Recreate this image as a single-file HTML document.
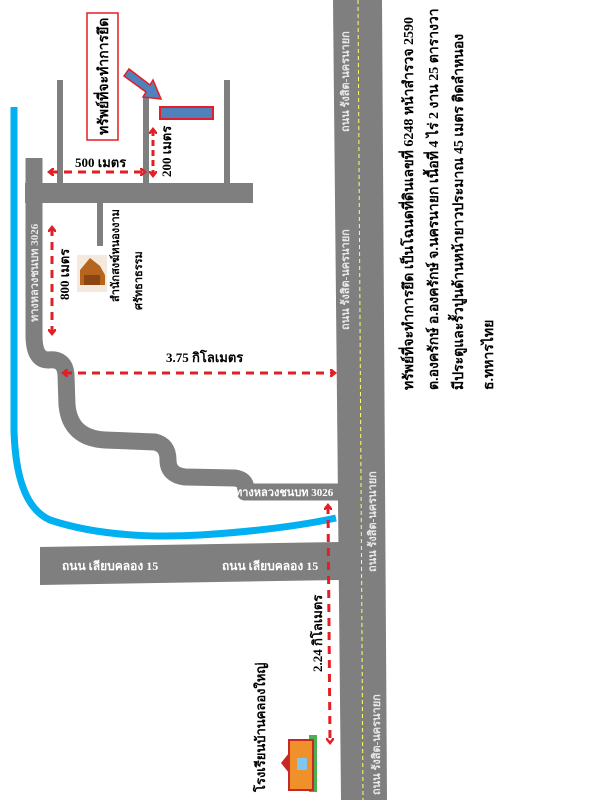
<!DOCTYPE html>
<html><head><meta charset="utf-8"><style>
html,body{margin:0;padding:0;background:#fff;}
svg{display:block;}
text{font-family:"Liberation Serif","Noto Serif CJK SC",serif;font-weight:bold;}
</style></head><body>
<svg width="600" height="800" viewBox="0 0 600 800" xmlns="http://www.w3.org/2000/svg">
<defs>
<marker id="ah" markerWidth="8" markerHeight="8" refX="4" refY="4" orient="auto-start-reverse" markerUnits="userSpaceOnUse">
<path d="M0,0 L5,4 L0,8" fill="none" stroke="#e31e24" stroke-width="2.5"/>
</marker>
</defs>
<polygon points="333,0 382,0 387,800 341,800" fill="#7f7f7f"/>
<line x1="358" y1="0" x2="363" y2="800" stroke="#ffff66" stroke-width="1" stroke-dasharray="4,3"/>
<g fill="#e8e8e8" font-size="11" style="font-weight:normal">
<text transform="translate(349,132) rotate(-90)">ถนน รังสิต-นครนายก</text>
<text transform="translate(349,330) rotate(-90)">ถนน รังสิต-นครนายก</text>
<text transform="translate(376,572) rotate(-90)">ถนน รังสิต-นครนายก</text>
<text transform="translate(380,795) rotate(-90)">ถนน รังสิต-นครนายก</text>
</g>
<path d="M14,107 L14,430 Q16,505 50,520 Q110,540 200,535 Q280,530 336,518" fill="none" stroke="#00b0f0" stroke-width="7"/>
<path d="M34,158 L34,335 Q34,360 48,360 Q65,358 66,375 L67,405 Q70,438 105,440 L155,442 Q168,445 168,460 Q168,475 185,477 L235,478 Q248,480 245,492 L340,492" fill="none" stroke="#7f7f7f" stroke-width="17" stroke-linejoin="round"/>
<rect x="25" y="183" width="228" height="20" fill="#7f7f7f"/>
<rect x="57" y="80" width="6" height="103" fill="#7f7f7f"/>
<rect x="143" y="95" width="6" height="88" fill="#7f7f7f"/>
<rect x="224" y="80" width="6" height="103" fill="#7f7f7f"/>
<rect x="97" y="203" width="6" height="43" fill="#7f7f7f"/>
<text transform="translate(38,322) rotate(-90)" fill="#e8e8e8" font-size="11">ทางหลวงชนบท 3026</text>
<text x="235" y="496" fill="#fff" font-size="11">ทางหลวงชนบท 3026</text>
<polygon points="40,547 340,542 340,580 40,585" fill="#7f7f7f"/>
<text x="62" y="570" fill="#fff" font-size="12">ถนน เลียบคลอง 15</text>
<text x="222" y="570" fill="#fff" font-size="12">ถนน เลียบคลอง 15</text>
<rect x="87" y="13" width="31" height="127" fill="#fff" stroke="#e31e24" stroke-width="1.5"/>
<text transform="translate(108,135) rotate(-90)" font-size="14" fill="#000">ทรัพย์ที่จะทำการยึด</text>
<polygon points="124,76 129,69 150,85 153,80 161,99 143,97 146,92" fill="#4f81bd" stroke="#e31e24" stroke-width="1.5"/>
<rect x="160" y="107" width="53" height="12" fill="#4f81bd" stroke="#e31e24" stroke-width="2"/>
<g stroke="#e31e24" stroke-width="3" stroke-dasharray="8,6" fill="none">
<line x1="50" y1="172" x2="144" y2="172" marker-start="url(#ah)" marker-end="url(#ah)"/>
<line x1="153" y1="130" x2="153" y2="175" marker-start="url(#ah)" marker-end="url(#ah)" stroke-dasharray="6,4"/>
<line x1="52" y1="228" x2="52" y2="333" marker-start="url(#ah)" marker-end="url(#ah)"/>
<line x1="64" y1="373" x2="334" y2="373" marker-start="url(#ah)" marker-end="url(#ah)"/>
<line x1="328" y1="506" x2="330" y2="742" marker-start="url(#ah)" marker-end="url(#ah)"/>
</g>
<g fill="#000" font-size="13">
<text x="75" y="167">500 เมตร</text>
<text transform="translate(171,177) rotate(-90)">200 เมตร</text>
<text transform="translate(69,300) rotate(-90)">800 เมตร</text>
<text x="166" y="362">3.75 กิโลเมตร</text>
<text transform="translate(322,672) rotate(-90)">2.24 กิโลเมตร</text>
</g>
<rect x="77" y="255" width="30" height="37" fill="#f3e9df"/>
<polygon points="80,285 80,270 90,258 100,266 105,275 105,285" fill="#b5651d"/>
<rect x="84" y="275" width="16" height="10" fill="#8b4513"/>
<g fill="#000" font-size="11">
<text transform="translate(119,302) rotate(-90)">สำนักสงฆ์หนองงาม</text>
<text transform="translate(142,310) rotate(-90)">ศรัทธาธรรม</text>
</g>
<rect x="309" y="735" width="8" height="57" fill="#4caf50"/>
<rect x="289" y="740" width="24" height="50" fill="#f0902a" stroke="#c62828" stroke-width="2"/>
<polygon points="289,753 281,763 289,773" fill="#c62828"/>
<rect x="297" y="758" width="10" height="12" fill="#7fc6f0"/>
<text transform="translate(265,792) rotate(-90)" font-size="13" fill="#000">โรงเรียนบ้านคลองใหญ่</text>
<g fill="#000" font-size="14">
<text transform="translate(413,390) rotate(-90)">ทรัพย์ที่จะทำการยึด เป็นโฉนดที่ดินเลขที่ 6248 หน้าสำรวจ 2590</text>
<text transform="translate(438,390) rotate(-90)">ต.องครักษ์ อ.องครักษ์ จ.นครนายก เนื้อที่ 4 ไร่ 2 งาน 25 ตารางวา</text>
<text transform="translate(463,390) rotate(-90)">มีประตูและรั้วปูนด้านหน้ายาวประมาณ 45 เมตร  ติดลำหนอง</text>
<text transform="translate(493,390) rotate(-90)">ธ.ทหารไทย</text>
</g>
</svg>
</body></html>
